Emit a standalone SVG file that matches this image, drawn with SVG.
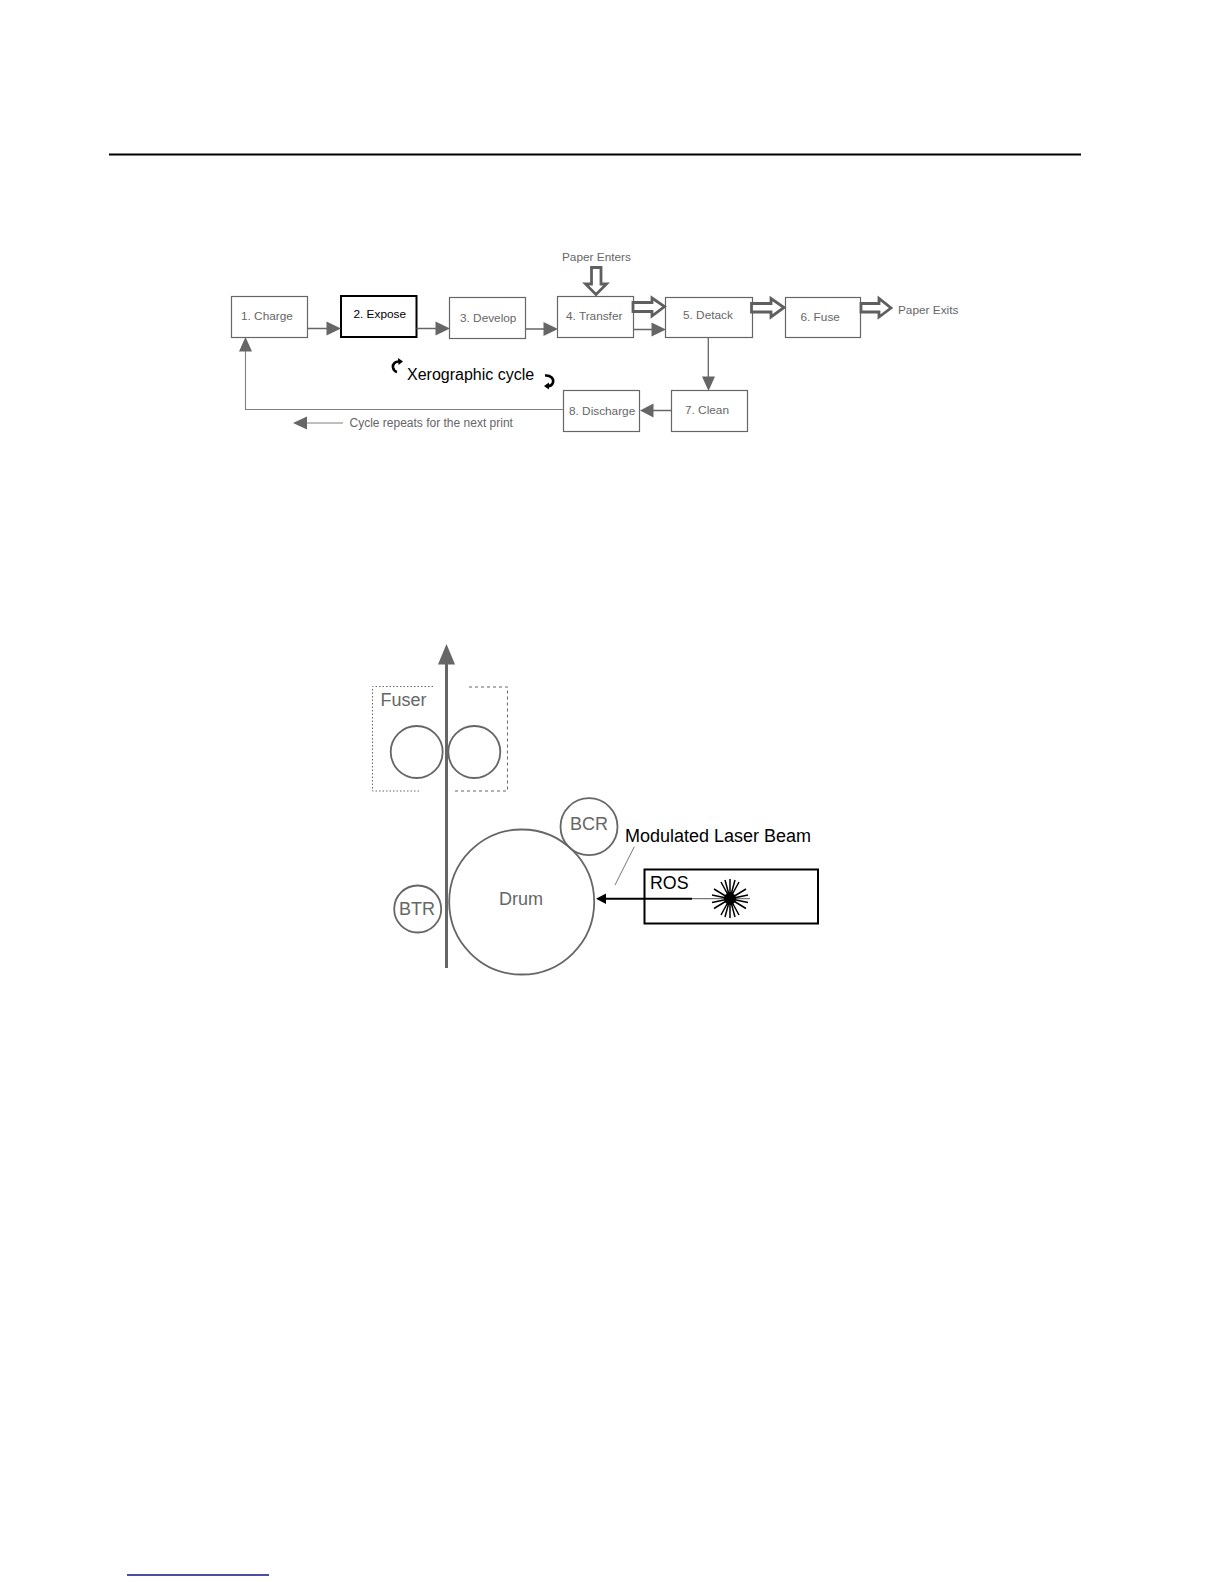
<svg xmlns="http://www.w3.org/2000/svg" width="1224" height="1584" viewBox="0 0 1224 1584">
<style>
text{font-family:"Liberation Sans",Arial,sans-serif;fill:#666}
.s{font-size:11.8px}
.b{fill:#fff;stroke:#666;stroke-width:1.2}
.k{fill:#fff;stroke:#000;stroke-width:2}
.c{fill:none;stroke:#666;stroke-width:1.3}
.l{fill:none;stroke:#808080;stroke-width:1.1}
.h{fill:#666;stroke:none}
.hollow{fill:#fff;stroke:#5f5f5f;stroke-width:2.8}
.r{fill:none;stroke:#666;stroke-width:1.8}
.d{fill:none;stroke:#666;stroke-width:1}
.blk{fill:#000}
</style>
<rect width="1224" height="1584" fill="#fff"/>
<line x1="109" y1="154.500" x2="1081" y2="154.500" stroke="#000" stroke-width="1.800"/>
<line x1="127" y1="1575" x2="269" y2="1575" stroke="#10108c" stroke-width="1.300"/>
<g id="n1"><rect class="b" x="231.500" y="296.500" width="76" height="41"/><text class="s" x="241" y="320">1. Charge</text></g>
<g id="n2"><rect class="k" x="341" y="296" width="75.500" height="41"/><text class="s blk" x="353.500" y="318">2. Expose</text></g>
<g id="n3"><rect class="b" x="449.500" y="297.500" width="76" height="41"/><text class="s" x="460" y="322">3. Develop</text></g>
<g id="n4"><rect class="b" x="557.500" y="296.500" width="76" height="41"/><text class="s" x="566" y="320">4. Transfer</text></g>
<g id="n5"><rect class="b" x="665.500" y="297.500" width="87" height="40"/><text class="s" x="683" y="319">5. Detack</text></g>
<g id="n6"><rect class="b" x="785.500" y="297.500" width="75" height="40"/><text class="s" x="800.500" y="321">6. Fuse</text></g>
<g id="n7"><rect class="b" x="671.500" y="390.500" width="76" height="41"/><text class="s" x="685" y="414">7. Clean</text></g>
<g id="n8"><rect class="b" x="563.500" y="390.500" width="76" height="41"/><text class="s" x="569" y="415">8. Discharge</text></g>
<g id="connectors">
<path class="c" d="M308 328.500H330M416.500 328.500H438M525.500 329H546M633.500 329.500H654M708.300 337.500V378M671.500 410.500H652"/>
<path class="l" d="M563.500 409.500H245.500V348M343 423H300"/>
<path class="h" d="M341 328.500L326.500 321.500V335.500ZM450 328.500L435.500 321.500V335.500ZM558 329L543.500 322V336ZM666 329.500L651.500 322.500V336.500ZM708.500 391L702 376.500H715ZM640 410.500L653.500 403.500V417.500ZM245.500 337L239 351.500H252ZM293 423L307 416.500V429.500Z"/>
<polygon class="hollow" points="591.500,267.500 601,267.500 601,284 606.500,284 596,294.500 585.500,284 591.500,284"/>
<polygon class="hollow" points="633,302.500 652,302.500 652,298 664.500,306.500 652,316 652,311.500 633,311.500"/>
<polygon class="hollow" points="751.500,303.500 771,303.500 771,298.500 784,307.500 771,317 771,312 751.500,312"/>
<polygon class="hollow" points="861,303.500 879,303.500 879,298.500 891,308 879,317 879,312 861,312"/>
<path d="M400 361.500C395 361 392.500 364 393 367.500C393.500 370 395 371.500 397 372" fill="none" stroke="#000" stroke-width="2.600"/>
<path d="M398 358L403 361.500L398.500 365Z" fill="#000"/>
<path d="M545 375.500C551 375 554 379 553 382.500C552 385.500 549 386.500 546 386" fill="none" stroke="#000" stroke-width="2.600"/>
<path d="M549 382.500L544 386L549 389.500Z" fill="#000"/>
</g>
<text class="s" x="562" y="261" id="paper-enters">Paper Enters</text>
<text class="s" x="898" y="314" id="paper-exits">Paper Exits</text>
<text x="349.500" y="427" font-size="12" id="repeat">Cycle repeats for the next print</text>
<text class="blk" x="407" y="380" font-size="16" id="cycle">Xerographic cycle</text>
<g id="fuser">
<path class="d" stroke-dasharray="1.500 2" d="M433 686.500H372.500V791H420"/>
<path class="d" stroke-dasharray="3 3" d="M469 687H507.500V791H454"/>
<circle class="r" cx="416.700" cy="752" r="26"/>
<circle class="r" cx="474.300" cy="752" r="26"/>
<text x="380.500" y="706" font-size="18">Fuser</text>
</g>
<g id="paper-path"><line x1="446.500" y1="968" x2="446.500" y2="660" stroke="#666" stroke-width="3"/><path class="h" d="M446.500 644L455 664.500H438Z"/></g>
<g id="drum"><circle class="r" cx="521.700" cy="902" r="72.500"/><text x="499" y="905" font-size="18">Drum</text></g>
<g id="bcr"><circle class="r" cx="589" cy="826.700" r="28.500"/><text x="570" y="830" font-size="18">BCR</text></g>
<g id="btr"><circle class="r" cx="417.700" cy="909" r="23.500"/><text x="399" y="915" font-size="18">BTR</text></g>
<g id="ros">
<rect fill="none" stroke="#000" stroke-width="2" x="644.500" y="869.500" width="173.500" height="54"/>
<text class="blk" x="650" y="889" font-size="17.800">ROS</text>
<path d="M692 898.700H604" stroke="#000" stroke-width="2" fill="none"/>
<path d="M596 898.700L606 893.500V904Z" fill="#000"/>
<path d="M692 898.700H750" stroke="#555" stroke-width="1" fill="none"/>
<path d="M730 879V918M714 889L746 908.500M714 908.500L746 889M721 882L739 915M721 915L739 882M712 895L748 902.500M712 902.500L748 895M725 880L735 917M725 917L735 880" stroke="#000" stroke-width="1.500" fill="none"/>
<circle cx="730" cy="898.700" r="6" fill="#000"/>
</g>
<g id="beam-label"><text class="blk" x="625" y="842" font-size="18">Modulated Laser Beam</text><line x1="634.300" y1="846.700" x2="615" y2="885" stroke="#666" stroke-width="0.900"/></g>
</svg>
